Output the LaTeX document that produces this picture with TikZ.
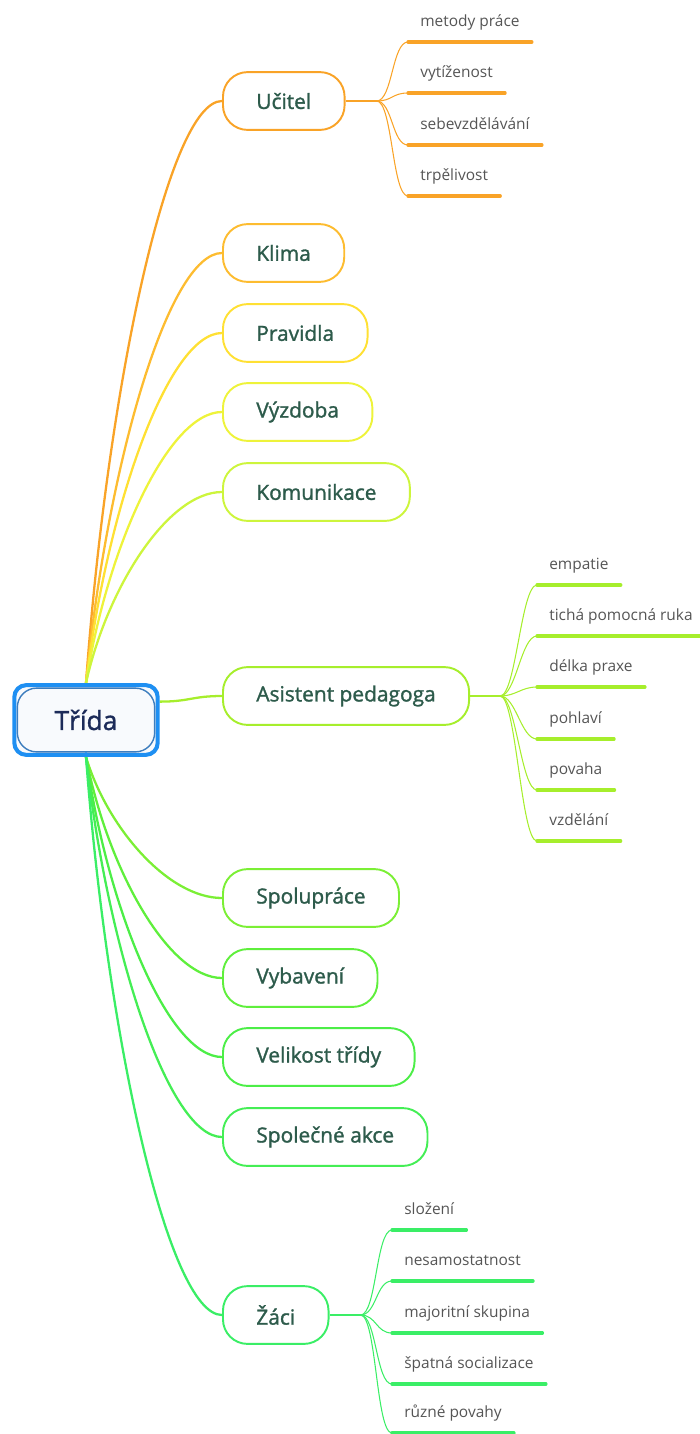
\documentclass[tikz,border=0pt]{standalone}
\usepackage{fontspec}
\setmainfont{Open Sans}
\newfontfamily\topicfont[FakeBold=1.3]{Open Sans}
\usetikzlibrary{calc,backgrounds}

\definecolor{rootblue}{HTML}{1E8FF2}
\definecolor{innerblue}{HTML}{3D7DBE}
\definecolor{rootfill}{HTML}{F8FAFD}
\definecolor{roottext}{HTML}{1C2B59}
\definecolor{topictext}{HTML}{2D5B4B}
\definecolor{leaftext}{HTML}{555555}
\definecolor{cUc}{HTML}{F9A327}
\definecolor{cKl}{HTML}{FDBC30}
\definecolor{cPr}{HTML}{FFE033}
\definecolor{cVz}{HTML}{EEF33A}
\definecolor{cKo}{HTML}{CDF53C}
\definecolor{cAs}{HTML}{A6EE2C}
\definecolor{cSp}{HTML}{7BEF35}
\definecolor{cVy}{HTML}{5FEF3C}
\definecolor{cVe}{HTML}{4CEE47}
\definecolor{cSa}{HTML}{44EE55}
\definecolor{cZa}{HTML}{3AEE66}

\tikzset{
  rootframe/.style={draw=rootblue, line width=2.3pt, rounded corners=6.8pt, fill=rootfill,
    minimum width=81.6pt, minimum height=39.7pt, inner sep=0pt},
  rootbox/.style={draw=innerblue, line width=0.8pt, rounded corners=11pt, fill=rootfill,
    minimum width=78.2pt, minimum height=36.3pt, inner sep=0pt, text=roottext,
    font=\topicfont\fontsize{15}{17}\selectfont},
  topic/.style={draw=#1, line width=1.1pt, rounded corners=14pt, fill=white, anchor=west,
    minimum height=32.9pt, inner xsep=19pt, text=topictext,
    font=\topicfont\fontsize{11.9}{13}\selectfont},
  leaf/.style={anchor=south west, inner xsep=6.8pt, inner ysep=6.3pt, text height=6.6pt,
    text depth=2.2pt, text=leaftext, font=\fontsize{8.8}{10}\selectfont},
  stem/.style={draw=#1, line width=1.3pt},
  twig/.style={draw=#1, line width=0.6pt},
  bar/.style={draw=#1, line width=1.9pt, line cap=round}
}

\begin{document}
\begin{tikzpicture}[x=0.02cm, y=-0.02cm]
    \useasboundingbox (0,0) rectangle (700,1434);
    % centre
    \node[rootframe] (root) at (86,720) {};
    \node[rootbox] (rootin) at (root.center) {Třída};
    \fill[rootblue] ($(root.south)+(-5,0)$) -- ($(root.south)+(0,-5)$) -- ($(root.south)+(5,0)$) -- cycle;

    % main topics
    \node[topic=cUc] (ucitel) at (222,101) {Učitel};
    \node[topic=cKl] (klima) at (222,253) {Klima};
    \node[topic=cPr] (pravidla) at (222,333) {Pravidla};
    \node[topic=cVz] (vyzdoba) at (222,412) {Výzdoba};
    \node[topic=cKo] (komunikace) at (222,492) {Komunikace};
    \node[topic=cAs] (asistent) at (222,696) {Asistent pedagoga};
    \node[topic=cSp] (spoluprace) at (222,898) {Spolupráce};
    \node[topic=cVy] (vybaveni) at (222,978) {Vybavení};
    \node[topic=cVe] (velikost) at (222,1057) {Velikost třídy};
    \node[topic=cSa] (akce) at (222,1137) {Společné akce};
    \node[topic=cZa] (zaci) at (222,1315) {Žáci};

    \begin{scope}[on background layer]
    \foreach \n/\c/\y in {ucitel/cUc/101, klima/cKl/253, pravidla/cPr/333, vyzdoba/cVz/412, komunikace/cKo/492}{
        \pgfmathsetmacro\dy{0.5*(\y-683)}
        \draw[stem=\c] (root.north) .. controls +(21,\dy) and +(-54,0) .. (\n.west);
    }
    \foreach \n/\c/\y in {spoluprace/cSp/898, vybaveni/cVy/978, velikost/cVe/1057, akce/cSa/1137, zaci/cZa/1315}{
        \pgfmathsetmacro\dy{0.5*(\y-757)}
        \draw[stem=\c] (root.south) .. controls +(21,\dy) and +(-54,0) .. (\n.west);
    }
    \draw[stem=cAs] (root.14) .. controls +(30,0) and +(-30,0) .. (asistent.west);
    \end{scope}

    % Ucitel
    \coordinate (ubr) at ($(ucitel.east)+(31,0)$);
    \draw[stem=cUc] (ucitel.east) -- (ubr);
    \foreach \t/\y [count=\i] in {metody práce/42, vytíženost/93, sebevzdělávání/145, trpělivost/196}{
        \node[leaf] (u\i) at (408,\y) {\t};
        \draw[bar=cUc] (u\i.south west) -- (u\i.south east);
        \draw[twig=cUc] (ubr) .. controls +(16,0) and +(-16,0) .. (u\i.south west);
    }

    % Asistent pedagoga
    \coordinate (abr) at ($(asistent.east)+(30,0)$);
    \draw[stem=cAs] (asistent.east) -- (abr);
    \foreach \t/\y [count=\i] in {empatie/585, tichá pomocná ruka/636, délka praxe/687, pohlaví/739, povaha/790, vzdělání/841}{
        \node[leaf] (a\i) at (537,\y) {\t};
        \draw[bar=cAs] (a\i.south west) -- (a\i.south east);
        \draw[twig=cAs] (abr) .. controls +(16,0) and +(-16,0) .. (a\i.south west);
    }

    % Zaci
    \coordinate (zbr) at ($(zaci.east)+(31,0)$);
    \draw[stem=cZa] (zaci.east) -- (zbr);
    \foreach \t/\y [count=\i] in {složení/1230, nesamostatnost/1281, majoritní skupina/1333, špatná socializace/1384, různé povahy/1433}{
        \node[leaf] (z\i) at (392,\y) {\t};
        \draw[bar=cZa] (z\i.south west) -- (z\i.south east);
        \draw[twig=cZa] (zbr) .. controls +(16,0) and +(-16,0) .. (z\i.south west);
    }
\end{tikzpicture}
\end{document}
